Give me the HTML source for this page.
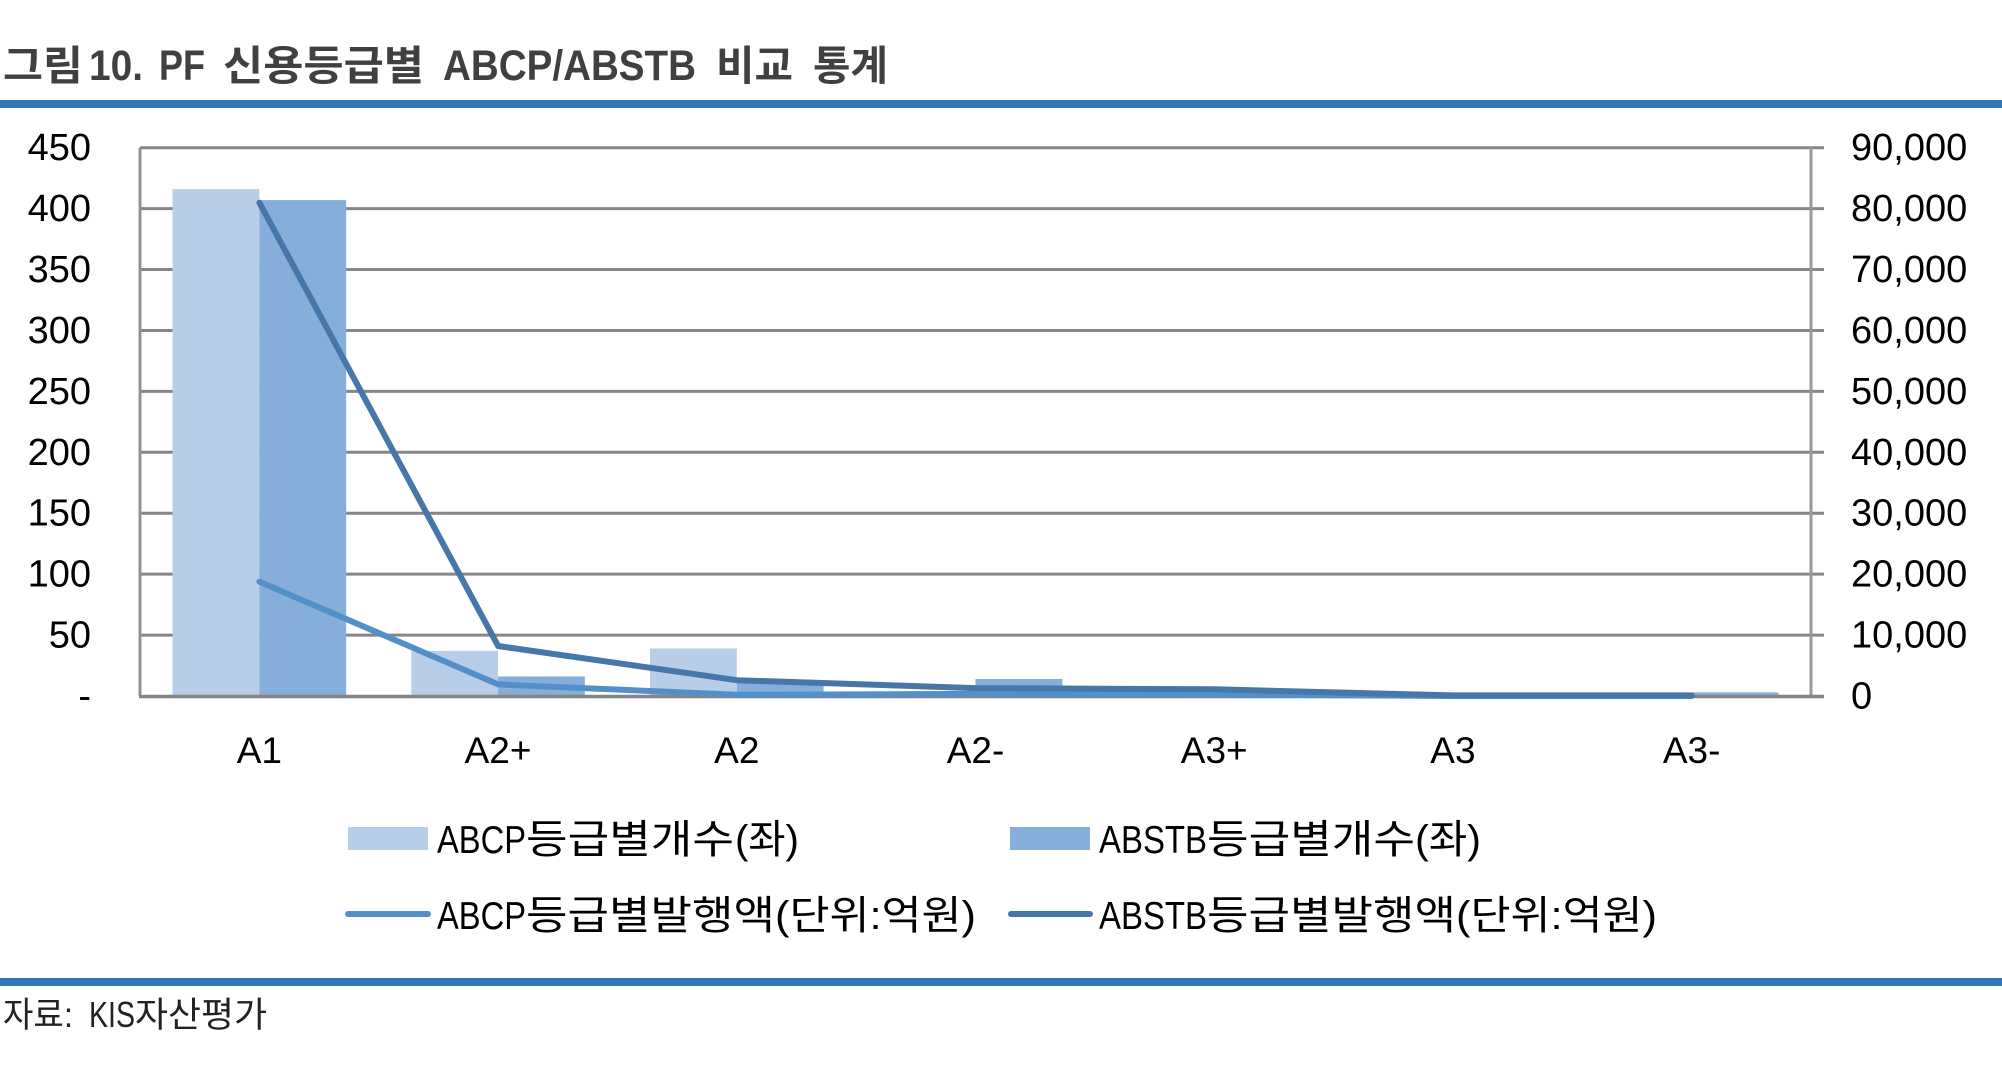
<!DOCTYPE html>
<html lang="ko">
<head>
<meta charset="utf-8">
<title>그림10. PF 신용등급별 ABCP/ABSTB 비교 통계</title>
<style>
  html, body { margin: 0; padding: 0; background: #ffffff; }
  svg { display: block; }
  text { font-family: "Liberation Sans", "Noto Sans CJK KR", sans-serif; fill: #000000; }
</style>
</head>
<body>
<svg id="figure" xmlns="http://www.w3.org/2000/svg" width="2002" height="1074" viewBox="0 0 2002 1074">
  <rect x="0" y="0" width="2002" height="1074" fill="#ffffff"/>
  <text y="80" font-size="41" font-weight="700" style="fill:#404040"><tspan x="3" textLength="80" lengthAdjust="spacingAndGlyphs">그림</tspan><tspan x="89" font-size="43" textLength="54" lengthAdjust="spacingAndGlyphs">10.</tspan><tspan x="159" font-size="43" textLength="46" lengthAdjust="spacingAndGlyphs">PF</tspan><tspan x="223" textLength="201" lengthAdjust="spacingAndGlyphs">신용등급별</tspan><tspan x="443" font-size="43" textLength="253" lengthAdjust="spacingAndGlyphs">ABCP/ABSTB</tspan><tspan x="716" textLength="77" lengthAdjust="spacingAndGlyphs">비교</tspan><tspan x="813" textLength="75" lengthAdjust="spacingAndGlyphs">통계</tspan></text>
  <rect x="0" y="100" width="2002" height="8" fill="#2e75b6"/>

  <g id="grid"></g>
  <g id="bars"></g>
  <g id="axes"></g>
  <g id="lines"></g>
  <g id="labels"></g>

  <g>
    <rect x="348" y="827" width="80" height="23" fill="#b7cde8"/>
    <text y="853" font-size="39"><tspan x="437" textLength="89" lengthAdjust="spacingAndGlyphs">ABCP</tspan><tspan x="526" font-size="40" textLength="208" lengthAdjust="spacingAndGlyphs">등급별개수</tspan><tspan x="735" font-size="40" textLength="64" lengthAdjust="spacingAndGlyphs">(좌)</tspan></text>
    <rect x="1010" y="827" width="80" height="23" fill="#85aedb"/>
    <text y="853" font-size="39"><tspan x="1099" textLength="108" lengthAdjust="spacingAndGlyphs">ABSTB</tspan><tspan x="1207" font-size="40" textLength="208" lengthAdjust="spacingAndGlyphs">등급별개수</tspan><tspan x="1415" font-size="40" textLength="66" lengthAdjust="spacingAndGlyphs">(좌)</tspan></text>
    <line x1="348" y1="914" x2="428" y2="914" stroke="#5490c8" stroke-width="6" stroke-linecap="round"/>
    <text y="929" font-size="39"><tspan x="437" textLength="89" lengthAdjust="spacingAndGlyphs">ABCP</tspan><tspan x="526" font-size="40" textLength="249" lengthAdjust="spacingAndGlyphs">등급별발행액</tspan><tspan x="775" font-size="40" textLength="201" lengthAdjust="spacingAndGlyphs">(단위:억원)</tspan></text>
    <line x1="1011" y1="914" x2="1090" y2="914" stroke="#4677a8" stroke-width="6" stroke-linecap="round"/>
    <text y="929" font-size="39"><tspan x="1099" textLength="108" lengthAdjust="spacingAndGlyphs">ABSTB</tspan><tspan x="1207" font-size="40" textLength="249" lengthAdjust="spacingAndGlyphs">등급별발행액</tspan><tspan x="1456" font-size="40" textLength="201" lengthAdjust="spacingAndGlyphs">(단위:억원)</tspan></text>
  </g>

  <rect x="0" y="978" width="2002" height="8" fill="#2e75b6"/>
  <text y="1027" font-size="36" style="fill:#222222"><tspan x="3" font-size="35" textLength="70" lengthAdjust="spacingAndGlyphs">자료:</tspan><tspan x="89" textLength="46" lengthAdjust="spacingAndGlyphs">KIS</tspan><tspan x="135" font-size="35" textLength="132" lengthAdjust="spacingAndGlyphs">자산평가</tspan></text>
</svg>
<script>
const categories = ['A1', 'A2+', 'A2', 'A2-', 'A3+', 'A3', 'A3-'];
const abcpCount = [416, 37, 39, 3, 2, 0, 0];
const abstbCount = [407, 16, 12, 14, 3, 0, 3];
const abcpAmount = [18760, 1900, 200, 350, 250, 0, 0];
const abstbAmount = [80970, 8200, 2600, 1300, 1100, 100, 100];
const leftTicks = [0, 50, 100, 150, 200, 250, 300, 350, 400, 450];
const rightTicks = [0, 10000, 20000, 30000, 40000, 50000, 60000, 70000, 80000, 90000];

const NS = 'http://www.w3.org/2000/svg';
const plot = { left: 140, right: 1811, top: 147.7, bottom: 696 };
const leftMax = 450;
const rightMax = 90000;

function yLeft(v) { return plot.bottom - (v / leftMax) * (plot.bottom - plot.top); }
function yRight(v) { return plot.bottom - (v / rightMax) * (plot.bottom - plot.top); }
function xBand(i) { return plot.left + i * (plot.right - plot.left) / categories.length; }
function xCenter(i) { return xBand(i + 0.5); }
const barWidth = (plot.right - plot.left) / categories.length * 0.3636;

function mk(parent, tag, attrs) {
  const el = document.createElementNS(NS, tag);
  for (const k in attrs) el.setAttribute(k, attrs[k]);
  document.getElementById(parent).appendChild(el);
  return el;
}

leftTicks.forEach(function (t, i) {
  const y = yLeft(t);
  if (t !== 0) {
    const g = mk('grid', 'line', { x1: plot.left, x2: plot.right + 13, y1: y, y2: y, stroke: '#868686', 'stroke-width': 3 });
    
    
  }
  const lab = mk('labels', 'text', { x: 91, y: y + 12.5, 'text-anchor': 'end', 'font-size': 38 });
  lab.textContent = t === 0 ? '-' : String(t);
  
  
});

rightTicks.forEach(function (t) {
  const lab = mk('labels', 'text', { x: 1851, y: yRight(t) + 12.5, 'font-size': 38 });
  lab.textContent = t.toLocaleString('en-US');
  
  
});

categories.forEach(function (c, i) {
  const cx = xCenter(i);
  const a = mk('bars', 'rect', { x: cx - barWidth, y: yLeft(abcpCount[i]), width: barWidth, height: plot.bottom - yLeft(abcpCount[i]), fill: '#b7cde8' });
  
  
  const b = mk('bars', 'rect', { x: cx, y: yLeft(abstbCount[i]), width: barWidth, height: plot.bottom - yLeft(abstbCount[i]), fill: '#85aedb' });
  
  
  const lab = mk('labels', 'text', { x: cx, y: 763, 'text-anchor': 'middle', 'font-size': 37 });
  lab.textContent = c;
  
  
});

const axisLeft = mk('axes', 'line', { x1: plot.left, x2: plot.left, y1: plot.top, y2: plot.bottom, stroke: '#939393', 'stroke-width': 3 });


const axisRight = mk('axes', 'line', { x1: plot.right, x2: plot.right, y1: plot.top, y2: plot.bottom, stroke: '#999999', 'stroke-width': 3 });


const axisBottom = mk('axes', 'line', { x1: plot.left - 1, x2: plot.right + 13, y1: plot.bottom + 0.5, y2: plot.bottom + 0.5, stroke: '#868686', 'stroke-width': 3.5 });



function pts(values) {
  return values.map(function (v, i) { return xCenter(i).toFixed(1) + ',' + yRight(v).toFixed(1); }).join(' ');
}
const lineAbcp = mk('lines', 'polyline', { points: pts(abcpAmount), fill: 'none', stroke: '#5490c8', 'stroke-width': 6, 'stroke-linecap': 'round', 'stroke-linejoin': 'round' });


const lineAbstb = mk('lines', 'polyline', { points: pts(abstbAmount), fill: 'none', stroke: '#4677a8', 'stroke-width': 6, 'stroke-linecap': 'round', 'stroke-linejoin': 'round' });


</script>
</body>
</html>
